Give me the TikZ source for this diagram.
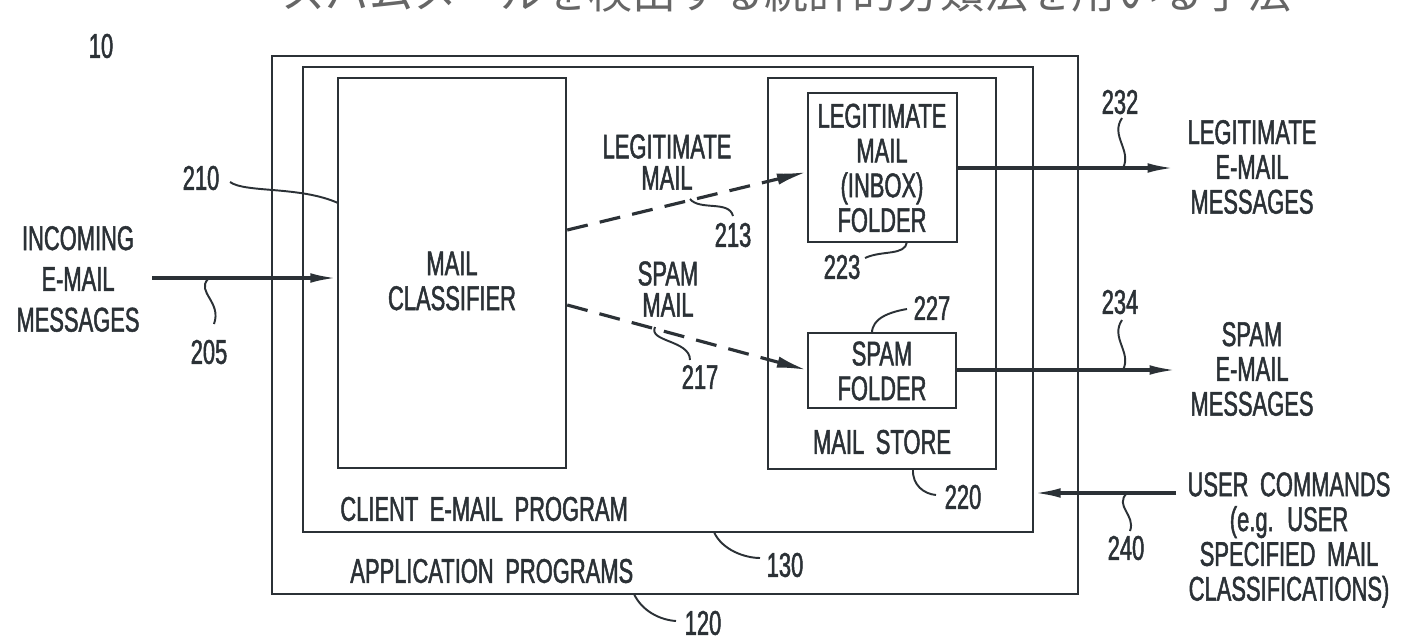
\documentclass[tikz,border=0pt]{standalone}
\usepackage{fontspec}
\setmainfont{Liberation Sans}[FakeStretch=0.64,FakeBold=1.4,WordSpace=1.9]
\newfontfamily\cjk{Noto Sans CJK JP}
\usetikzlibrary{arrows.meta,fit}
\definecolor{ink}{HTML}{2B3136}
\newcommand\lbfont{\fontsize{19.5}{19.8}\selectfont}
\tikzset{
  box/.style={draw=ink, line width=1.4pt, inner sep=0pt},
  lbl/.style={text=ink, font=\lbfont, align=center, inner sep=0pt},
  lead/.style={draw=ink, line width=1.1pt},
  arr/.style={draw=ink, line width=1.8pt, -{Latex[length=15pt,width=5.5pt]}},
  dasharr/.style={draw=ink, line width=1.8pt, dash pattern=on 12pt off 7pt, -{Latex[length=17pt,width=6.5pt]}}
}
\begin{document}
\begin{tikzpicture}[x=0.02cm,y=-0.02cm]
\useasboundingbox (0,0) rectangle (1404,639);
\clip (0,0) rectangle (1404,639);
\fill[white] (0,0) rectangle (1404,639);
% cut-off title
\node[anchor=base west, inner sep=0pt, text=black!60, font=\cjk\fontsize{25}{25}\selectfont] (title) at (281,9) {スパムメールを検出する統計的分類法を用いる手法};
\node[lbl] (n10) at (101,46) {10};
% boxes
\node[box, fit={(272,56)(1078,594)}] (app) {};
\node[box, fit={(303,67)(1033,532)}] (client) {};
\node[box, fit={(338,78)(566,468)}] (cls) {};
\node[box, fit={(768,78)(996,469)}] (store) {};
\node[box, fit={(808,93)(957,242)}] (legit) {};
\node[box, fit={(808,333)(956,408)}] (spam) {};
% box texts
\node[lbl] (clst) at (452,281) {MAIL\\CLASSIFIER};
\node[lbl] (legitt) at (882,168) {LEGITIMATE\\MAIL\\(INBOX)\\FOLDER};
\node[lbl] (spamt) at (882,371) {SPAM\\FOLDER};
\node[lbl] (storet) at (882,442) {MAIL STORE};
\node[lbl, anchor=west] (clientt) at (340,509) {CLIENT E-MAIL PROGRAM};
\node[lbl, anchor=west] (appt) at (350,571) {APPLICATION PROGRAMS};
% outside labels
\node[lbl] (inc) at (78,279) {INCOMING\\[3.4pt]E-MAIL\\[3.4pt]MESSAGES};
\node[lbl] (olegit) at (1252,167) {LEGITIMATE\\E-MAIL\\MESSAGES};
\node[lbl] (ospam) at (1252,369) {SPAM\\E-MAIL\\MESSAGES};
\node[lbl] (user) at (1289,540) {USER COMMANDS\\(e.g. USER\\SPECIFIED MAIL\\CLASSIFICATIONS)};
\node[lbl] (lm) at (667,162) {LEGITIMATE\\[-2pt]MAIL};
\node[lbl] (sm) at (668,289) {SPAM\\[-2pt]MAIL};
% reference numerals
\node[lbl] (r205) at (209,352) {205};
\node[lbl] (r210) at (201,178) {210};
\node[lbl] (r213) at (733,235) {213};
\node[lbl] (r217) at (700,377) {217};
\node[lbl] (r223) at (842,267) {223};
\node[lbl] (r227) at (932,308) {227};
\node[lbl] (r232) at (1120,102) {232};
\node[lbl] (r234) at (1120,302) {234};
\node[lbl] (r220) at (963,497) {220};
\node[lbl] (r240) at (1126,548) {240};
\node[lbl] (r130) at (785,565) {130};
\node[lbl] (r120) at (703,623) {120};
% free ends
\coordinate (inS) at (152,278);
\coordinate (o1) at (1174,168);
\coordinate (o2) at (1176,370);
\coordinate (uS) at (1176,493);
% connectors
\draw[arr] (inS) -- (cls.west |- inS);
\draw[dasharr] (cls.east |- 0,230) -- (legit.west |- 0,172);
\draw[dasharr] (cls.east |- 0,305) -- (spam.west |- 0,370);
\draw[arr] (legit.east |- o1) -- (o1);
\draw[arr] (spam.east |- o2) -- (o2);
\draw[arr] (uS) -- (client.east |- uS);
% leader lines
\draw[lead] (208,279) .. controls (196,292) and (222,302) .. (214,324);
\draw[lead] (230,182) .. controls (245,193) and (300,186) .. (338,203);
\draw[lead] (690,199) .. controls (700,211) and (729,200) .. (733,216);
\draw[lead] (655,327) .. controls (648,342) and (690,340) .. (690,360);
\draw[lead] (865,258) .. controls (882,250) and (905,256) .. (907,242);
\draw[lead] (907,309) .. controls (890,312) and (872,318) .. (872,333);
\draw[lead] (1122,118) .. controls (1110,136) and (1132,150) .. (1123,168);
\draw[lead] (1122,320) .. controls (1110,338) and (1132,352) .. (1123,370);
\draw[lead] (913,469) .. controls (912,485) and (924,494) .. (936,495);
\draw[lead] (1127,493) .. controls (1114,506) and (1136,515) .. (1130,531);
\draw[lead] (714,532) .. controls (722,550) and (745,558) .. (760,558);
\draw[lead] (634,594) .. controls (642,611) and (660,620) .. (676,621);
\end{tikzpicture}
\end{document}
